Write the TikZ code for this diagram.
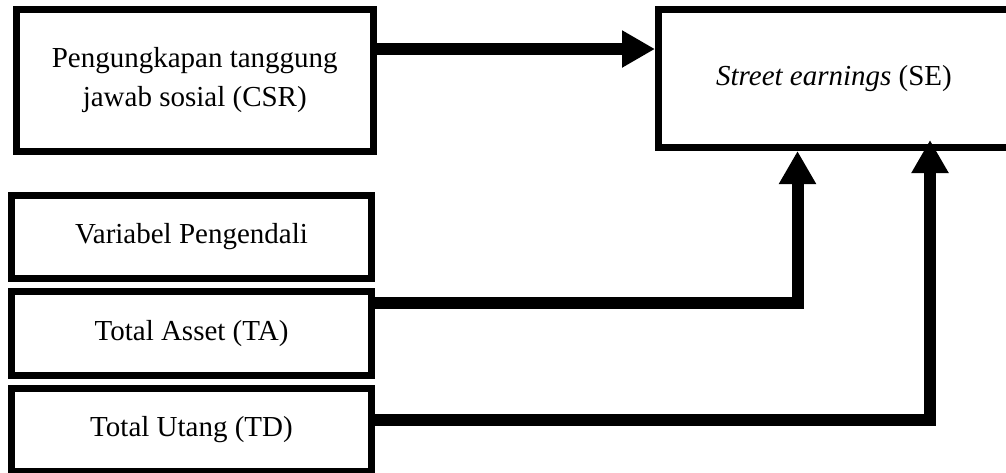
\documentclass[tikz,border=0pt]{standalone}
\usepackage{fontspec}
\setmainfont{Liberation Serif}
\usetikzlibrary{arrows.meta,positioning}

\begin{document}
\begin{tikzpicture}[x=0.5pt,y=-0.5pt,node distance=48.25pt,on grid,
        font=\fontsize{14.5}{19.5}\selectfont,
        box/.style={draw,line width=3.5pt,minimum width=180pt,minimum height=41.75pt,align=center,inner sep=0pt},
        flow/.style={line width=6pt,-{Triangle[length=16.5pt,width=17.5pt]}}] 
        \useasboundingbox (0,0) rectangle (1006,472);
        \node[box,minimum width=178.75pt,minimum height=71pt] (csr) at (194.75,80.5) {Pengungkapan tanggung\\ jawab sosial (CSR)}; 
        \node[box,minimum width=175.5pt,minimum height=69pt] (se) at (834,78.5) {\textit{Street earnings} (SE)}; 
        \node[box] (vp) at (191.5,236.75) {Variabel Pengendali}; 
        \node[box] (ta) [below=of vp] {Total Asset (TA)}; 
        \node[box] (td) [below=of ta] {Total Utang (TD)}; 
        \draw[flow] (csr.east |- 0,49) -- (se.west |- 0,49);
        \draw[flow] (ta.east |- 0,302.5) -| (se.south -| 797.5,0);
        \draw[flow,shorten >=-5.5pt] (td.east |- 0,419.5) -| (se.south -| 930,0);
    \end{tikzpicture}
\end{document}
